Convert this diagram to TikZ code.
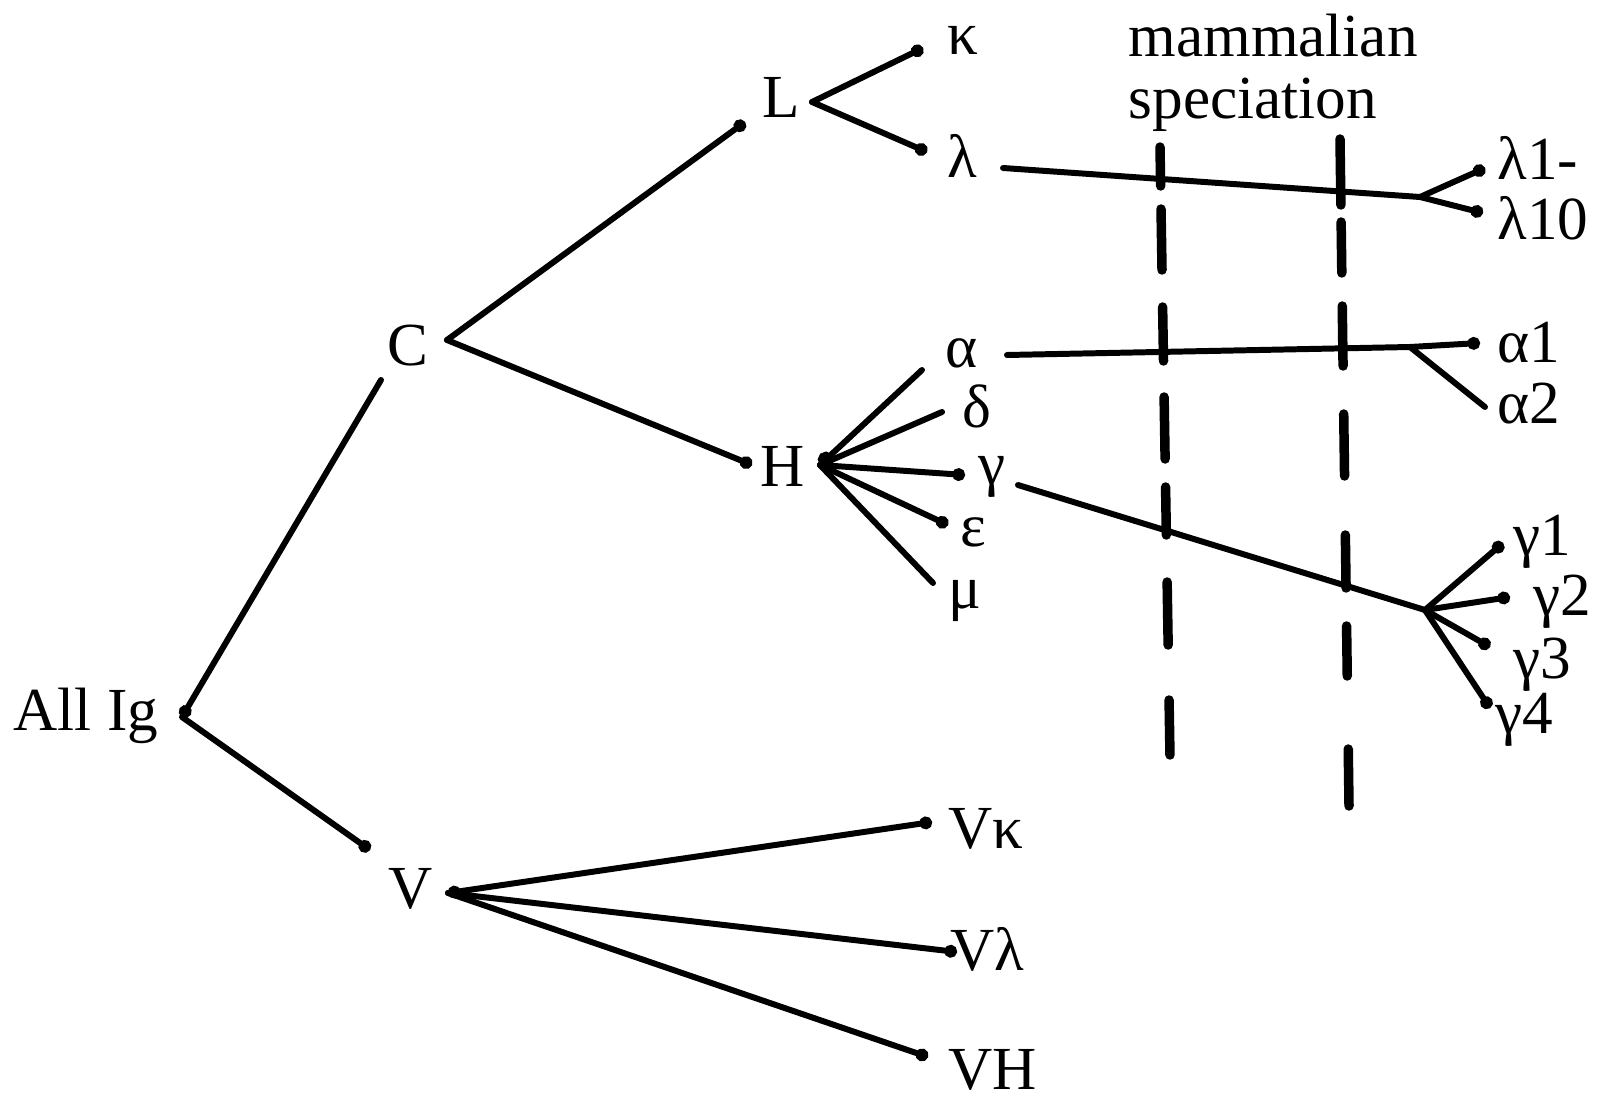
\documentclass[tikz,border=0pt]{standalone}
\usepackage{fontspec}
\setmainfont{Liberation Serif}
\usetikzlibrary{arrows.meta}

\tikzset{
  branch/.style={line width=1.7pt, line cap=round},
  blob/.style={-{Circle[length=3.6pt]}},
  lbl/.style={inner sep=0pt, anchor=base west, font=\fontsize{17.4}{17.6}\selectfont},
  epoch/.style={line width=2.7pt, line cap=round}
}

\begin{document}
\begin{tikzpicture}[x=0.01cm, y=-0.01cm]
  \useasboundingbox (0,0) rectangle (1599,1097);

  % labels
  \node[lbl] (allig) at (13,730) {All Ig};
  \node[lbl] (cnode) at (387,366) {C};
  \node[lbl] (lnode) at (762,118) {L};
  \node[lbl] (kappa) at (947,55) {κ};
  \node[lbl] (lambda) at (947,178) {λ};
  \node[lbl] (alpha) at (945,367) {α};
  \node[lbl] (delta) at (962,427) {δ};
  \node[lbl] (hnode) at (760,487) {H};
  \node[lbl] (gamma) at (978,485) {γ};
  \node[lbl] (epsil) at (960,546) {ε};
  \node[lbl] (mu) at (948,608) {μ};
  \node[lbl] (vnode) at (388,908) {V};
  \node[lbl] (vkappa) at (948,848) {Vκ};
  \node[lbl] (vlambda) at (950,970) {Vλ};
  \node[lbl] (vh) at (948,1089) {VH};
  \node[lbl] (lam1) at (1497,180) {λ1-};
  \node[lbl] (lam10) at (1497,240) {λ10};
  \node[lbl] (alpha1) at (1497,363) {α1};
  \node[lbl] (alpha2) at (1497,423) {α2};
  \node[lbl] (gam1) at (1513,555) {γ1};
  \node[lbl] (gam2) at (1533,615) {γ2};
  \node[lbl] (gam3) at (1513,678) {γ3};
  \node[lbl] (gam4) at (1495,733) {γ4};
  \node[lbl, anchor=north west, align=left] (speciation) at (1128,13) {mammalian\\speciation};

  % branch points and line ends
  \coordinate (igHub) at (182,717);
  \coordinate (cIn) at (381,380);
  \coordinate (cHub) at (447,340);
  \coordinate (vIn) at (370,850);
  \coordinate (vHub) at (448,893);
  \coordinate (lIn) at (745,122);
  \coordinate (lHub) at (812,102);
  \coordinate (hIn) at (752,465);
  \coordinate (hHub) at (820,465);
  \coordinate (kEnd) at (923,48);
  \coordinate (lamEnd) at (927,152);
  \coordinate (aEnd) at (922,370);
  \coordinate (dEnd) at (942,412);
  \coordinate (gEnd) at (965,475);
  \coordinate (eEnd) at (948,525);
  \coordinate (mEnd) at (933,583);
  \coordinate (lamOut) at (1003,168);
  \coordinate (lamFork) at (1420,197);
  \coordinate (aOut) at (1007,355);
  \coordinate (aFork) at (1410,347);
  \coordinate (gOut) at (1018,485);
  \coordinate (gFork) at (1425,610);
  \coordinate (lam1End) at (1485,168);
  \coordinate (lam10End) at (1483,213);
  \coordinate (a1End) at (1480,343);
  \coordinate (a2End) at (1485,407);
  \coordinate (g1End) at (1503,543);
  \coordinate (g2End) at (1510,597);
  \coordinate (g3End) at (1490,647);
  \coordinate (g4End) at (1490,708);
  \coordinate (vkEnd) at (932,822);
  \coordinate (vlEnd) at (957,952);
  \coordinate (vhEnd) at (928,1057);

  % tree
  \draw[branch, {Circle[length=3.6pt]}-] (igHub) -- (cIn);
  \draw[branch, blob] (igHub) -- (vIn);
  \draw[branch, blob] (cHub) -- (lIn);
  \draw[branch, blob] (cHub) -- (hIn);
  \draw[branch, blob] (lHub) -- (kEnd);
  \draw[branch, blob] (lHub) -- (lamEnd);
  \draw[branch, {Circle[length=4.5pt]}-] (hHub) -- (aEnd);
  \draw[branch] (hHub) -- (dEnd);
  \draw[branch, blob] (hHub) -- (gEnd);
  \draw[branch, blob] (hHub) -- (eEnd);
  \draw[branch] (hHub) -- (mEnd);
  \draw[branch, {Circle[length=3.6pt]}-{Circle[length=3.6pt]}] (vHub) -- (vkEnd);
  \draw[branch, blob] (vHub) -- (vlEnd);
  \draw[branch, blob] (vHub) -- (vhEnd);

  % lines past the mammalian split
  \draw[branch] (lamOut) -- (lamFork);
  \draw[branch, blob] (lamFork) -- (lam1End);
  \draw[branch, blob] (lamFork) -- (lam10End);
  \draw[branch, blob] (aOut) -- (aFork) -- (a1End);
  \draw[branch] (aFork) -- (a2End);
  \draw[branch] (gOut) -- (gFork);
  \foreach \e in {g1End,g2End,g3End,g4End}
    \draw[branch, blob] (gFork) -- (\e);

  % speciation marks
  \foreach \ya/\yb in {147/186,209/270,307/361,397/459,487/535,582/645,700/755}
    \draw[epoch] ({1160+(\ya-147)/61},\ya) -- ({1160+(\yb-147)/61},\yb);
  \foreach \ya/\yb in {139/205,222/273,306/366,414/476,535/588,626/676,749/806}
    \draw[epoch] ({1340+(\ya-139)/74},\ya) -- ({1340+(\yb-139)/74},\yb);
\end{tikzpicture}
\end{document}
